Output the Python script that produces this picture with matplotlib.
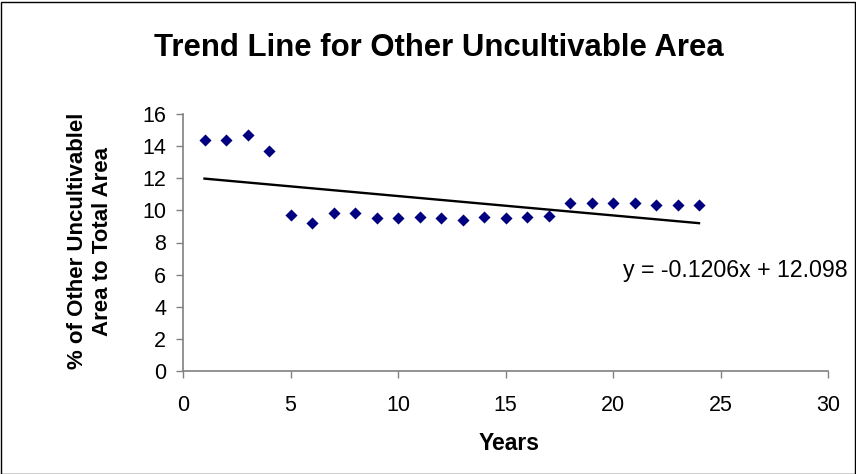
import matplotlib
matplotlib.use("Agg")
import matplotlib.pyplot as plt
from matplotlib.patches import Rectangle
import numpy as np

plt.rcParams['font.family'] = ['Liberation Sans', 'DejaVu Sans']

# Share of other uncultivable area in total area, by year index
years = list(range(1, 25))
share = [14.37, 14.37, 14.67, 13.67, 9.71, 9.19, 9.81, 9.81, 9.50, 9.50,
         9.60, 9.50, 9.37, 9.60, 9.50, 9.60, 9.67, 10.46, 10.46, 10.46,
         10.46, 10.33, 10.33, 10.33]

# Linear trend coefficients
slope = -0.1206
intercept = 12.098

x_ticks = [0, 5, 10, 15, 20, 25, 30]
y_ticks = [0, 2, 4, 6, 8, 10, 12, 14, 16]

fig = plt.figure(figsize=(8.56, 4.74), dpi=100)
ax = fig.add_axes([183/856, 1 - 371/474, (828 - 183)/856, (371 - 114)/474])

ax.scatter(years, share, marker='D', s=38, color='#000080', zorder=3,
           linewidths=0)
tx = np.array([years[0], years[-1]])
ax.plot(tx, slope * tx + intercept, color='black', lw=1.7, zorder=2)

ax.set_xlim(0, 30)
ax.set_ylim(0, 16)
ax.set_xticks(x_ticks)
ax.set_yticks(y_ticks)
ax.tick_params(axis='both', labelsize=15.5, color='#808080', length=5,
               width=1, direction='out')
ax.tick_params(axis='x', pad=12)
ax.tick_params(axis='y', pad=7)

for side in ['top', 'right']:
    ax.spines[side].set_visible(False)
for side in ['left', 'bottom']:
    ax.spines[side].set_color('#808080')
    ax.spines[side].set_linewidth(1.2)

fig.text(0.513, 1 - 48/474, 'Trend Line for Other Uncultivable Area',
         ha='center', va='center', fontsize=22.4, fontweight='bold')
fig.text(509/856, 1 - 443/474, 'Years', ha='center', va='center',
         fontsize=16.5, fontweight='bold')
fig.text(90/856, 1 - 241/474, '% of Other Uncultivablel\nArea to Total Area',
         ha='center', va='center', rotation=90, fontsize=16,
         fontweight='bold', linespacing=1.22)
ax.text(848/856, 1 - 270/474, 'y = -0.1206x + 12.098',
        transform=fig.transFigure, ha='right', va='center', fontsize=16.7)

fig.patches.append(Rectangle((0.5/856, 0.5/474), 1 - 2/856, 1 - 2/474,
                             transform=fig.transFigure, fill=False,
                             edgecolor='black', lw=1))

fig.savefig('out.png', dpi=100)
